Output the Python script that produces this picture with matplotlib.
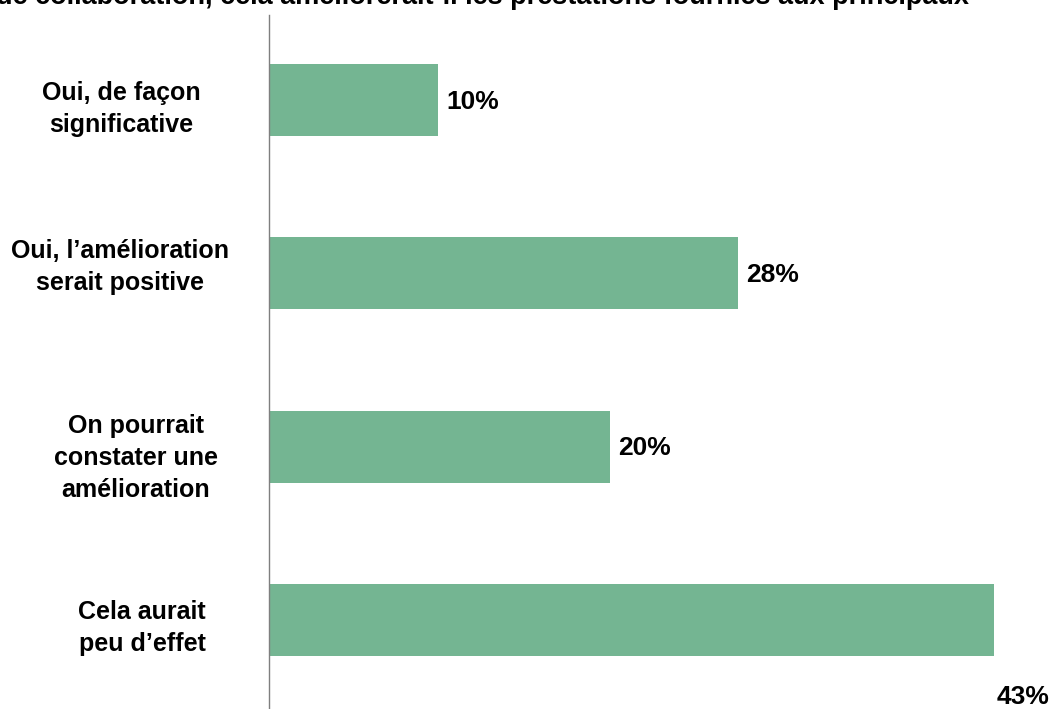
import matplotlib
matplotlib.use("Agg")
import matplotlib.pyplot as plt
import matplotlib.transforms as mtransforms

# Data
categories = [
    "Oui, de façon\nsignificative",
    "Oui, l\u2019amélioration\nserait positive",
    "On pourrait\nconstater une\namélioration",
    "Cela aurait\npeu d\u2019effet",
]
values = [10.0, 27.8, 20.2, 43.0]
value_labels = ["10%", "28%", "20%", "43%"]
title = "de collaboration, cela améliorerait-il les prestations fournies aux principaux"

bar_color = "#74b592"
plt.rcParams["font.family"] = ["Liberation Sans", "DejaVu Sans"]

W, H = 1051, 709
fig = plt.figure(figsize=(W / 100, H / 100), dpi=100)

ax_left = 269 / W
ax_top = 15 / H
ax = fig.add_axes([ax_left, 0, 1 - ax_left, 1 - ax_top])

step = 173.3  # pixels between categories
ypos = list(range(len(categories)))
ax.barh(ypos, values, height=0.415, color=bar_color)
ax.set_xlim(0, (W - 269) / 16.87)
ax.set_ylim(3.514, -0.49)

for s in ["top", "right", "bottom"]:
    ax.spines[s].set_visible(False)
ax.spines["left"].set_color("#7f7f7f")
ax.spines["left"].set_linewidth(1.0)
ax.set_xticks([])
ax.set_yticks([])

# value labels (last one sits below its bar, as in the reference)
for i, (v, lab) in enumerate(zip(values, value_labels)):
    if i == len(values) - 1:
        ax.text(v + 0.15, i + 0.445, lab, ha="left", va="center",
                fontsize=19, fontweight="bold")
    else:
        ax.text(v + 0.5, i + 0.01, lab, ha="left", va="center",
                fontsize=19, fontweight="bold")

# category labels, placed by hand like in the reference
label_x = [121, 120, 136, 142]
label_dy = [9, -6, 11, 8]
trans = mtransforms.blended_transform_factory(fig.transFigure, ax.transData)
for i, cat in enumerate(categories):
    fig.text(label_x[i] / W, i + label_dy[i] / step, cat, transform=trans,
             ha="center", va="center", fontsize=18, fontweight="bold",
             linespacing=1.42)

# title, cut off at the top of the image
fig.text(-4 / W, 1.0 + 3 / H, title, ha="left", va="center", fontsize=19.5, fontweight="bold")

fig.savefig("out.png", dpi=100)
